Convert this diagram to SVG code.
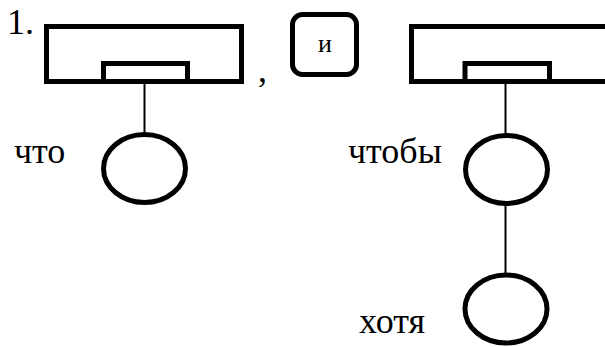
<svg xmlns="http://www.w3.org/2000/svg" width="605" height="347" viewBox="0 0 605 347">
<style>
.t{font-family:"Liberation Serif","Times New Roman",serif;fill:#000}
.box{fill:none;stroke:#000;stroke-width:5}
.circ{fill:none;stroke:#000;stroke-width:5}
.ln{stroke:#000;stroke-width:2;fill:none}
</style>
<rect width="605" height="347" fill="#fff"/>
<text class="t" x="7" y="34" font-size="36">1.</text>
<text class="t" x="258" y="82" font-size="36">,</text>
<g id="clause1">
<rect class="box" x="46.5" y="26.5" width="195" height="55"/>
<rect class="box" x="103.5" y="63.5" width="84" height="18"/>
</g>
<g id="conj">
<rect class="box" x="292.5" y="14.5" width="64" height="60" rx="10"/>
<text class="t" x="325" y="52" font-size="26" text-anchor="middle">и</text>
</g>
<g id="clause2">
<rect class="box" x="411.5" y="26.5" width="196" height="55"/>
<rect class="box" x="465" y="63.5" width="84.5" height="18"/>
</g>
<g id="node-chto">
<ellipse class="circ" cx="144.5" cy="168.5" rx="41" ry="34"/>
<text class="t" x="14" y="163" font-size="36">что</text>
</g>
<g id="node-chtoby">
<ellipse class="circ" cx="506.5" cy="169.5" rx="41" ry="34"/>
<text class="t" x="348" y="163" font-size="36">чтобы</text>
</g>
<g id="node-khotya">
<ellipse class="circ" cx="506" cy="309" rx="41" ry="34"/>
<text class="t" x="359" y="333" font-size="36">хотя</text>
</g>
<g id="connectors">
<line class="ln" x1="144.5" y1="84" x2="144.5" y2="134"/>
<line class="ln" x1="505.5" y1="84" x2="505.5" y2="135"/>
<line class="ln" x1="505.5" y1="204" x2="505.5" y2="275"/>
</g>
</svg>
